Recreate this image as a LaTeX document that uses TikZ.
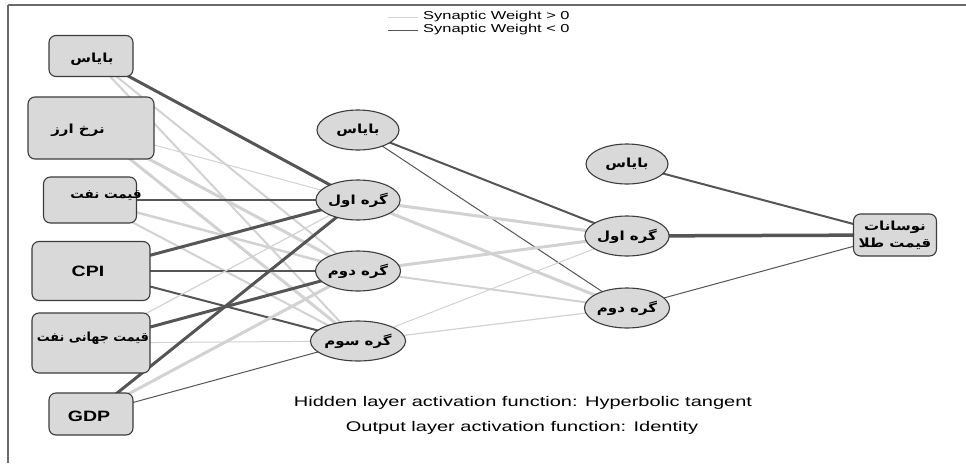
\documentclass[tikz,border=0pt]{standalone}
\usepackage{fontspec}
\usetikzlibrary{shapes.geometric}
\setmainfont{Liberation Sans}
\newfontfamily\latw[FakeStretch=1.43]{Liberation Sans}
\newfontfamily\latb[FakeStretch=1.3]{Liberation Sans}
\newfontfamily\fa[Script=Arabic,FakeStretch=1.2]{DejaVu Sans}
\newfontfamily\fanarrow[Script=Arabic,FakeStretch=1.08]{DejaVu Sans}
\newfontfamily\famid[Script=Arabic,FakeStretch=1.02]{DejaVu Sans}
\TeXXeTstate=1
\definecolor{negc}{HTML}{555555}
\definecolor{posc}{HTML}{D2D2D2}
\definecolor{nodefill}{HTML}{D9D9D9}
\definecolor{nodeborder}{HTML}{3C3C3C}
\definecolor{framec}{HTML}{6A6A6A}
\pgfdeclarelayer{bg}
\pgfsetlayers{bg,main}
\tikzset{
  inbox/.style={draw=nodeborder, fill=nodefill, rounded corners=7pt, line width=1.1pt, inner sep=0pt},
  hid/.style={ellipse, draw=nodeborder, fill=nodefill, line width=1.1pt, minimum width=82pt, minimum height=40pt, inner sep=0pt, font=\fa\bfseries\fontsize{12.5}{14}\selectfont},
  fatxt/.style={inner sep=0pt, font=\fa\bfseries\fontsize{12.5}{14}\selectfont},
  entxt/.style={inner sep=0pt, font=\latb\bfseries\fontsize{15}{17}\selectfont},
  neglink/.style={draw=negc},
  poslink/.style={draw=posc},
  legtxt/.style={inner sep=0pt, anchor=west, font=\latw\fontsize{11.5}{13}\selectfont},
  bottxt/.style={inner sep=0pt, font=\latw\fontsize{14}{16}\selectfont}
}
\begin{document}
\begin{tikzpicture}[x=1pt,y=-1pt]
\useasboundingbox (0,0) rectangle (966,463);
% frame
\draw[framec, line width=2pt] (8,5) -- (966,5);
\draw[framec, line width=1.2pt] (8,5) -- (8,463);
% input nodes
\node[inbox, minimum width=84pt, minimum height=41pt] (i0) at (91,56) {};
\node[inbox, minimum width=126pt, minimum height=62pt] (i1) at (91,128) {};
\node[inbox, minimum width=93pt, minimum height=46pt] (i2) at (90,200) {};
\node[inbox, minimum width=118pt, minimum height=59pt] (i3) at (91,271) {};
\node[inbox, minimum width=118pt, minimum height=60pt] (i4) at (91,343) {};
\node[inbox, minimum width=84pt, minimum height=42pt] (i5) at (91,414) {};
\node[fatxt] (t0) at (92,59) {\beginR بایاس\endR};
\node[fatxt] (t1) at (78,130) {\beginR نرخ ارز\endR};
\node[fatxt, font=\fanarrow\bfseries\fontsize{12.5}{14}\selectfont] (t2) at (106,196) {\beginR قیمت نفت\endR};
\node[entxt] (t3) at (88,271) {CPI};
\node[fatxt, font=\famid\bfseries\fontsize{12.5}{14}\selectfont] (t4) at (93,338) {\beginR قیمت جهانی نفت\endR};
\node[entxt] (t5) at (89,416) {GDP};
% hidden layer 1
\node[hid] (hb) at (358,130) {\beginR بایاس\endR};
\node[hid] (h1) at (358,200) {\beginR گره اول\endR};
\node[hid] (h2) at (358,271) {\beginR گره دوم\endR};
\node[hid] (h3) at (358,341) {\beginR گره سوم\endR};
% hidden layer 2
\node[hid] (gb) at (627,164) {\beginR بایاس\endR};
\node[hid] (g1) at (627,236) {\beginR گره اول\endR};
\node[hid] (g2) at (627,308) {\beginR گره دوم\endR};
% output
\node[inbox, minimum width=83pt, minimum height=42pt, align=center, font=\fa\bfseries\fontsize{12.5}{17}\selectfont] (o) at (895,235) {\beginR نوسانات\endR\\\beginR قیمت طلا\endR};
% connections
\begin{pgfonlayer}{bg}
\fill[white] (0,0) rectangle (966,463);
\draw[neglink, line width=3pt] (i0.center) -- (h1.center);
\draw[poslink, line width=2pt] (i0.center) -- (h2.center);
\draw[poslink, line width=2pt] (i0.center) -- (h3.center);
\draw[poslink, line width=1pt] (i1.center) -- (h1.center);
\draw[poslink, line width=3pt] (i1.center) -- (h2.center);
\draw[poslink, line width=3pt] (i1.center) -- (h3.center);
\draw[neglink, line width=1.4pt] (i2.center) -- (h1.center);
\draw[poslink, line width=2.5pt] (i2.center) -- (h2.center);
\draw[poslink, line width=2pt] (i2.center) -- (h3.center);
\draw[neglink, line width=3pt] (i3.center) -- (h1.center);
\draw[neglink, line width=2pt] (i3.center) -- (h2.center);
\draw[neglink, line width=2pt] (i3.center) -- (h3.center);
\draw[poslink, line width=1.2pt] (i4.center) -- (h1.center);
\draw[neglink, line width=3pt] (i4.center) -- (h2.center);
\draw[poslink, line width=1pt] (i4.center) -- (h3.center);
\draw[neglink, line width=3pt] (i5.center) -- (h1.center);
\draw[poslink, line width=3pt] (i5.center) -- (h2.center);
\draw[neglink, line width=1pt] (i5.center) -- (h3.center);
\draw[neglink, line width=2pt] (hb.center) -- (g1.center);
\draw[neglink, line width=1pt] (hb.center) -- (g2.center);
\draw[poslink, line width=3pt] (h1.center) -- (g1.center);
\draw[poslink, line width=3pt] (h1.center) -- (g2.center);
\draw[poslink, line width=3pt] (h2.center) -- (g1.center);
\draw[poslink, line width=2pt] (h2.center) -- (g2.center);
\draw[poslink, line width=1pt] (h3.center) -- (g1.center);
\draw[poslink, line width=1.2pt] (h3.center) -- (g2.center);
\draw[neglink, line width=2pt] (gb.center) -- (o.center);
\draw[neglink, line width=3.5pt] (g1.center) -- (o.center);
\draw[neglink, line width=1pt] (g2.center) -- (o.center);
\end{pgfonlayer}
% legend
\coordinate (la1) at (388,17);
\coordinate (lb1) at (418,17);
\coordinate (la2) at (388,30);
\coordinate (lb2) at (418,30);
\draw[poslink, line width=1pt] (la1) -- (lb1);
\draw[neglink, line width=1pt] (la2) -- (lb2);
\node[legtxt] (lg1) at (423,17) {Synaptic Weight > 0};
\node[legtxt] (lg2) at (423,30) {Synaptic Weight < 0};
% bottom text
\node[bottxt] (bt1) at (523,403) {Hidden layer activation function: Hyperbolic tangent};
\node[bottxt] (bt2) at (522,428) {Output layer activation function: Identity};
\end{tikzpicture}
\end{document}
